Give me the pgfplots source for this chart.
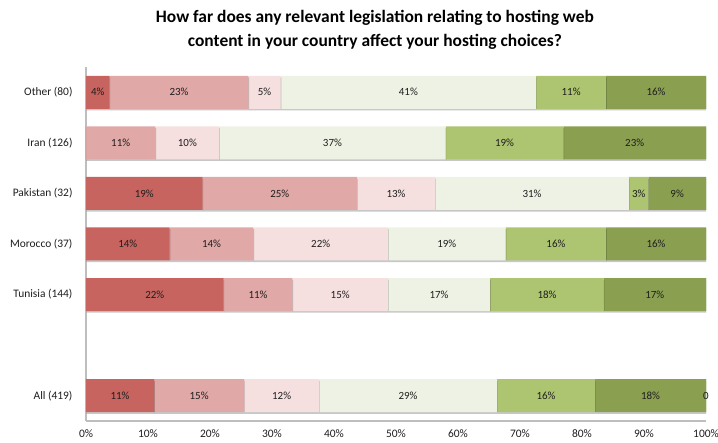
\documentclass[border=0pt]{standalone}
\usepackage{fontspec}
\setmainfont{Carlito}
\usepackage{pgfplots}
\usepackage{pgfplotstable}
\pgfplotsset{compat=1.18}
\usetikzlibrary{shadows}

\definecolor{c1}{RGB}{200,100,95}
\definecolor{c2}{RGB}{224,168,167}
\definecolor{c3}{RGB}{245,224,223}
\definecolor{c4}{RGB}{238,242,228}
\definecolor{c5}{RGB}{173,196,112}
\definecolor{c6}{RGB}{138,160,80}
\definecolor{axisgray}{RGB}{190,190,190}
\definecolor{txt}{RGB}{30,30,30}

% rows: 0 All, 2 Tunisia, 3 Morocco, 4 Pakistan, 5 Iran, 6 Other
\pgfplotstableread{
pos val lab
0 11.0 11\%
2 22.2 22\%
3 13.5 14\%
4 18.8 19\%
5 0 {}
6 3.8 4\%
}\sA
\pgfplotstableread{
pos val lab
0 14.5 15\%
2 11.1 11\%
3 13.5 14\%
4 24.9 25\%
5 11.2 11\%
6 22.4 23\%
}\sB
\pgfplotstableread{
pos val lab
0 12.1 12\%
2 15.4 15\%
3 21.7 22\%
4 12.6 13\%
5 10.3 10\%
6 5.2 5\%
}\sC
\pgfplotstableread{
pos val lab
0 28.7 29\%
2 16.5 17\%
3 19.0 19\%
4 31.3 31\%
5 36.5 37\%
6 41.2 41\%
}\sD
\pgfplotstableread{
pos val lab
0 15.8 16\%
2 18.3 18\%
3 16.2 16\%
4 3.1 3\%
5 19.0 19\%
6 11.3 11\%
}\sE
\pgfplotstableread{
pos val lab
0 17.9 18\%
2 16.5 17\%
3 16.1 16\%
4 9.3 9\%
5 23.0 23\%
6 16.1 16\%
}\sF
\pgfplotstableread{
pos val lab
0 0 0
2 0 {}
3 0 {}
4 0 {}
5 0 {}
6 0 {}
}\sG

\begin{document}
\begin{tikzpicture}
\begin{axis}[
  scale only axis,
  width=620bp, height=354bp,
  xbar stacked, bar width=33bp,
  stacked ignores zero=false,
  xmin=0, xmax=100, ymin=-0.5, ymax=6.5,
  axis x line*=bottom, axis y line*=left,
  axis line style={axisgray, line width=1.3pt},
  xtick={0,10,...,100},
  xticklabels={0\%,10\%,20\%,30\%,40\%,50\%,60\%,70\%,80\%,90\%,100\%},
  ytick={0,2,3,4,5,6},
  yticklabels={All (419),Tunisia (144),Morocco (37),Pakistan (32),Iran (126),Other (80)},
  major tick length=0pt,
  tick label style={font=\fontsize{11.5}{13}\selectfont, text=txt},
  yticklabel style={xshift=-10bp},
  xticklabel style={yshift=-5bp},
  nodes near coords,
  point meta=explicit symbolic,
  every node near coord/.append style={font=\fontsize{11}{13}\selectfont, text=txt},
  title={How far does any relevant legislation relating to hosting web\\content in your country affect your hosting choices?},
  title style={font=\bfseries\fontsize{17.5}{24.5}\selectfont, align=center, at={(0.466,1)}, anchor=center, yshift=31bp, text=black},
  shd/.style={drop shadow={shadow xshift=0.6bp, shadow yshift=-1.6bp, opacity=0.22, fill=black}},
]
\addplot[fill=c1, draw=none, shd] table[x=val, y=pos, meta=lab] {\sA};
\addplot[fill=c2, draw=none, shd] table[x=val, y=pos, meta=lab] {\sB};
\addplot[fill=c3, draw=none, shd] table[x=val, y=pos, meta=lab] {\sC};
\addplot[fill=c4, draw=none, shd] table[x=val, y=pos, meta=lab] {\sD};
\addplot[fill=c5, draw=none, shd] table[x=val, y=pos, meta=lab] {\sE};
\addplot[fill=c6, draw=none, shd] table[x=val, y=pos, meta=lab] {\sF};
\addplot[fill=c6, draw=none] table[x=val, y=pos, meta=lab] {\sG};
\end{axis}
\pgfresetboundingbox
\path ([xshift=-86bp,yshift=-22bp]current axis.south west) rectangle ([xshift=12bp,yshift=67bp]current axis.north east);
\end{tikzpicture}
\end{document}
